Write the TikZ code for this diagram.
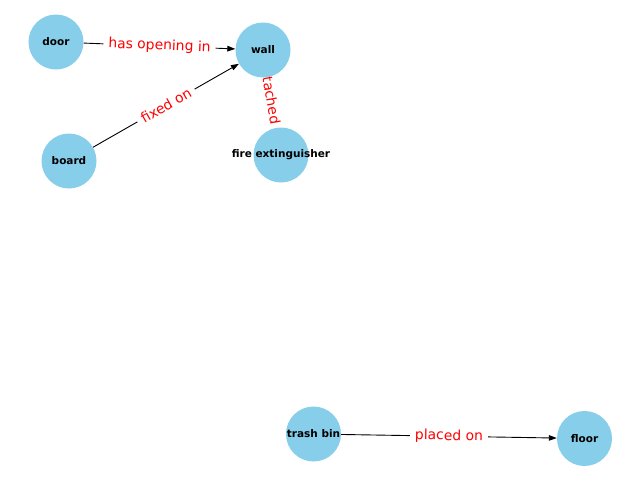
\documentclass[tikz,border=0pt]{standalone}
\usepackage{fontspec}
\setmainfont{DejaVu Sans}
\usetikzlibrary{arrows.meta}
\pgfdeclarelayer{fg}
\pgfsetlayers{main,fg}
\definecolor{nodeblue}{HTML}{87CEEB}
\tikzset{
  ent/.style={circle, fill=nodeblue, draw=none, minimum size=55pt, inner sep=0pt},
  enttext/.style={font=\fontsize{10.5pt}{12pt}\selectfont\bfseries, text=black, inner sep=0pt},
  rel/.style={-{Triangle[length=8pt,width=5.5pt]}, draw=black, line width=0.9pt},
  rellabel/.style={font=\fontsize{13.9pt}{16pt}\selectfont, text=red, fill=white, inner xsep=5pt, inner ysep=3pt, sloped, pos=0.5},
}
\begin{document}
\begin{tikzpicture}[x=1pt, y=-1pt]
\useasboundingbox[fill=white] (0,0) rectangle (640,480);
\begin{pgfonlayer}{fg}
\node[ent] (door) at (56,42) {};
\node[ent] (wall) at (263,50) {};
\node[ent] (board) at (69,161) {};
\node[ent] (fire) at (281,155) {};
\node[ent] (trash) at (313.5,434) {};
\node[ent] (floor) at (584.5,438.5) {};
\node[enttext] (doorT) at (door) {door};
\node[enttext] (wallT) at (wall) {wall};
\node[enttext] (boardT) at (board) {board};
\node[enttext] (fireT) at (fire) {fire extinguisher};
\node[enttext] (trashT) at (trash) {trash bin};
\node[enttext] (floorT) at (floor) {floor};
\end{pgfonlayer}
\draw[rel] (door) -- node[rellabel] {has opening in} (wall);
\draw[rel] (board) -- node[rellabel] {fixed on} (wall);
\draw[rel] (fire) -- node[rellabel, allow upside down=false] {attached to} (wall);
\draw[rel] (trash) -- node[rellabel] {placed on} (floor);
\end{tikzpicture}
\end{document}
